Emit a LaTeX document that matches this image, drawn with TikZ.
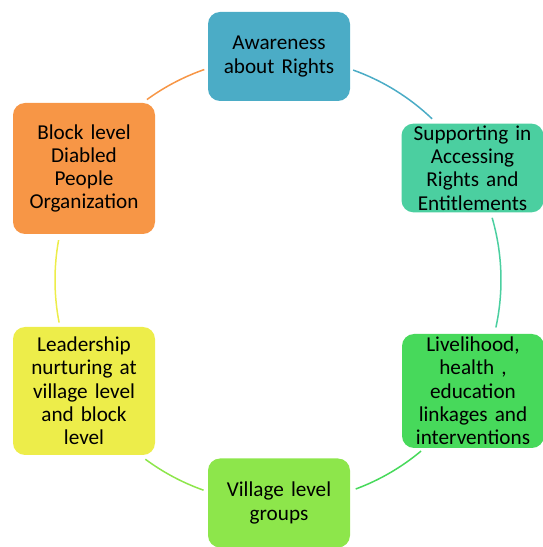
\documentclass[tikz,border=0pt]{standalone}
\usepackage{fontspec}
\setmainfont{Carlito}
\usetikzlibrary{calc}
\definecolor{awblue}{HTML}{4BACC6}
\definecolor{supteal}{HTML}{4BCFA0}
\definecolor{livgreen}{HTML}{47D95B}
\definecolor{vilgreen}{HTML}{8DE64B}
\definecolor{leadyellow}{HTML}{EDED4A}
\definecolor{blockorange}{HTML}{F79646}
\begin{document}
\begin{tikzpicture}[x=1pt,y=1pt,
  cbox/.style={rectangle, rounded corners=12pt, minimum width=142pt, minimum height=89pt,
    inner sep=2pt, align=center, text width=138pt, font=\fontsize{21.2}{23.3}\selectfont, text=black},
  arcline/.style={line width=1.5pt}]
\useasboundingbox (0,0) rectangle (543,547);
\coordinate (C) at (278,267);
\node[cbox, fill=awblue] (aw) at (279,490.5) {Awareness\\about Rights};
\node[cbox, fill=supteal, minimum height=88pt] (sup) at (472.5,379) {Supporting in\\Accessing\\Rights and\\Entitlements};
\node[cbox, fill=livgreen, minimum height=114pt] (liv) at (473,156) {Livelihood,\\health ,\\education\\linkages and\\interventions};
\node[cbox, fill=vilgreen] (vil) at (279,44) {Village level\\groups};
\node[cbox, fill=leadyellow, minimum height=128pt] (lead) at (84,156) {Leadership\\nurturing at\\village level\\and block\\level};
\node[cbox, fill=blockorange, minimum height=131pt] (blk) at (84,378.5) {Block level\\Diabled\\People\\Organization};
% arc start points on circle of radius 223 round C
\coordinate (a1) at ($(C)+(70.3:223)$);
\coordinate (a2) at ($(C)+(16.2:223)$);
\coordinate (a3) at ($(C)+(-50.1:223)$);
\coordinate (a4) at ($(C)+(-109.5:223)$);
\coordinate (a5) at ($(C)+(-169:223)$);
\coordinate (a6) at ($(C)+(126:223)$);
\draw[arcline, awblue] (a1) arc[start angle=70.3, end angle=46.3, radius=223];
\draw[arcline, supteal] (a2) arc[start angle=16.2, end angle=-12.3, radius=223];
\draw[arcline, livgreen] (a3) arc[start angle=-50.1, end angle=-69.6, radius=223];
\draw[arcline, vilgreen] (a4) arc[start angle=-109.5, end angle=-126.5, radius=223];
\draw[arcline, leadyellow] (a5) arc[start angle=-169, end angle=-190.3, radius=223];
\draw[arcline, blockorange] (a6) arc[start angle=126, end angle=109.3, radius=223];
\end{tikzpicture}
\end{document}
